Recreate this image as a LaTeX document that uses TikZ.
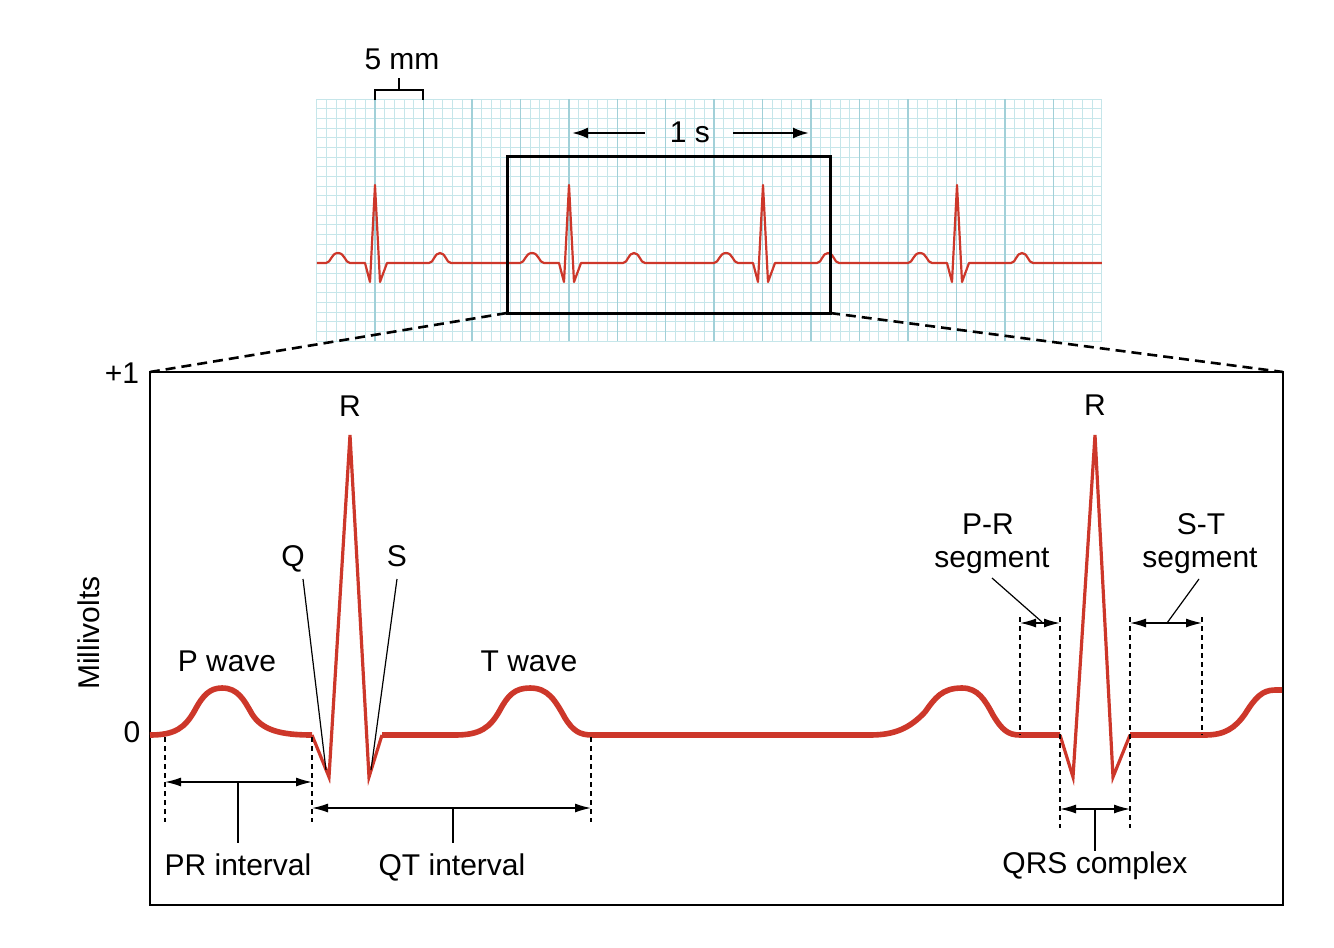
\documentclass[tikz,border=0pt]{standalone}
\usepackage{fontspec}
\setmainfont{Liberation Sans}
\usetikzlibrary{arrows.meta}
\definecolor{ecgred}{RGB}{205,55,42}
\definecolor{gridlight}{RGB}{198,230,234}
\definecolor{gridmajor}{RGB}{162,208,216}
\tikzset{
  lbl/.style={font=\fontsize{15}{17}\selectfont, inner sep=0pt, anchor=base},
  minorline/.style={draw=gridlight, line width=0.5pt},
  majorline/.style={draw=gridmajor, line width=0.75pt},
  smallecg/.style={draw=ecgred, line width=1.1pt, line join=round},
  bigecg/.style={draw=ecgred, line width=2.8pt, line join=round},
  qrsecg/.style={draw=ecgred, line width=1.6pt, line join=miter},
  frame/.style={draw=black, line width=1.4pt},
  zoomdash/.style={draw=black, line width=1.3pt, dash pattern=on 5pt off 3pt},
  guidedash/.style={draw=black, line width=0.6pt, dash pattern=on 2.5pt off 2pt},
  leader/.style={draw=black, line width=0.6pt},
  dimarrow/.style={draw=black, line width=0.7pt, {Latex[length=8pt,width=4.5pt]}-{Latex[length=8pt,width=4.5pt]}},
  timearrow/.style={draw=black, line width=1.2pt, -{Latex[length=8pt,width=5.5pt]}},
  beat/.pic={
    \draw[smallecg] (-100,0) -- (-49,0)
      .. controls (-44,0) and (-44,-10) .. (-37,-10)
      .. controls (-30,-10) and (-30,0) .. (-25,0)
      -- (-10,0) -- (-5,19) -- (0,-78) -- (5,19) -- (12,0) -- (54,0)
      .. controls (59,0) and (59,-10) .. (65,-10)
      .. controls (71,-10) and (71,0) .. (76,0) -- (94,0);
  }
}
\begin{document}
\begin{tikzpicture}[x=0.5pt,y=-0.5pt]
\useasboundingbox (0,0) rectangle (1334,948);

% ---------- ECG paper grid ----------
\foreach \i in {0,...,81}
  \draw[minorline] ({316.86+\i*9.69},99) -- ({316.86+\i*9.69},341.25);
\foreach \j in {0,...,25}
  \draw[minorline] (316.86,{99+\j*9.69}) -- (1101.75,{99+\j*9.69});
\foreach \i in {0,...,14}
  \draw[majorline] ({375+\i*48.45},99) -- ({375+\i*48.45},341.25);

% ---------- small trace ----------
\begin{scope}
  \clip (316.86,99) rectangle (1101.75,341.25);
  \foreach \r in {375,569,763,957,1151}
    \pic at (\r,263) {beat};
\end{scope}

% ---------- 5 mm bracket ----------
\node[lbl] (fivemm) at (402,69) {5 mm};
\coordinate (bk1) at (375,100);
\coordinate (bk2) at (375,90);
\coordinate (bk3) at (423,90);
\coordinate (bk4) at (423,100);
\coordinate (bkm) at (399,90);
\coordinate (bkt) at (399,78);
\draw[leader, line width=0.8pt] (bk1) -- (bk2) -- (bk3) -- (bk4);
\draw[leader, line width=0.8pt] (bkm) -- (bkt);

% ---------- 1 s ----------
\node[lbl] (onesec) at (690,142) {1 s};
\coordinate (osl1) at (645,133);
\coordinate (osl2) at (572,133);
\coordinate (osr1) at (733,133);
\coordinate (osr2) at (809,133);
\draw[timearrow] (osl1) -- (osl2);
\draw[timearrow] (osr1) -- (osr2);

% ---------- zoom box and lower frame ----------
\coordinate (zbTL) at (507,156);
\coordinate (zbBR) at (830,313);
\coordinate (zbBL) at (507,313);
\draw[frame, line width=1.5pt] (zbTL) rectangle (zbBR);
\coordinate (lbTL) at (150,372);
\coordinate (lbTR) at (1283,372);
\coordinate (lbBR) at (1283,905);
\draw[zoomdash] (zbBL) -- (lbTL);
\draw[zoomdash] (zbBR) -- (lbTR);
\draw[frame] (lbTL) rectangle (lbBR);

% ---------- axis labels ----------
\node[lbl] (plusone) at (122,383) {+1};
\node[lbl] (zero) at (132,742) {0};
\node[font=\fontsize{15}{17}\selectfont, inner sep=0pt, rotate=90] (mv) at (89,633) {Millivolts};

% ---------- big trace ----------
\draw[bigecg] (150,735)
  .. controls (175,735) and (185,728) .. (195,710)
  .. controls (203,695) and (210,688) .. (222,688)
  .. controls (238,688) and (244,700) .. (252,714)
  .. controls (262,730) and (280,735) .. (312,735);
\draw[qrsecg] (312,735) -- (329,777) -- (350,435) -- (369,777) -- (382,735);
\draw[bigecg] (382,735) -- (455,735)
  .. controls (480,735) and (490,728) .. (500,710)
  .. controls (508,695) and (515,688) .. (530,688)
  .. controls (548,688) and (555,700) .. (565,718)
  .. controls (573,731) and (580,735) .. (592,735)
  -- (870,735)
  .. controls (895,735) and (910,728) .. (925,712)
  .. controls (935,698) and (942,688) .. (962,688)
  .. controls (978,688) and (985,700) .. (993,715)
  .. controls (1002,730) and (1008,735) .. (1020,735)
  -- (1060,735);
\draw[qrsecg] (1060,735) -- (1073,777) -- (1095,435) -- (1113,777) -- (1130,735);
\draw[bigecg] (1130,735) -- (1205,735)
  .. controls (1225,735) and (1235,728) .. (1245,714)
  .. controls (1255,698) and (1262,690) .. (1275,690) -- (1282,690);

% ---------- wave labels ----------
\node[lbl] (Rone) at (350,416) {R};
\node[lbl] (Rtwo) at (1095,415) {R};
\node[lbl] (Qlab) at (293,566) {Q};
\node[lbl] (Slab) at (397,566) {S};
\node[lbl] (Pwave) at (227,671) {P wave};
\node[lbl] (Twave) at (529,671) {T wave};
\coordinate (qtip) at (326,770);
\coordinate (stip) at (371,770);
\draw[leader] (303,579) -- (qtip);
\draw[leader] (397,579) -- (stip);

% ---------- PR / QT intervals ----------
\coordinate (ga) at (165,737);  \coordinate (gab) at (165,822);
\coordinate (gb) at (312,737);  \coordinate (gbb) at (312,822);
\coordinate (gc) at (591,737);  \coordinate (gcb) at (591,822);
\draw[guidedash] (ga) -- (gab);
\draw[guidedash] (gb) -- (gbb);
\draw[guidedash] (gc) -- (gcb);
\coordinate (pr1) at (165,782); \coordinate (pr2) at (312,782);
\draw[dimarrow] (pr1) -- (pr2);
\coordinate (prt1) at (238,782); \coordinate (prt2) at (238,843);
\draw[leader, line width=0.8pt] (prt1) -- (prt2);
\node[lbl] (PRint) at (238,875) {PR interval};
\coordinate (qt1) at (312,808); \coordinate (qt2) at (591,808);
\draw[dimarrow] (qt1) -- (qt2);
\coordinate (qtt1) at (453,808); \coordinate (qtt2) at (453,843);
\draw[leader, line width=0.8pt] (qtt1) -- (qtt2);
\node[lbl] (QTint) at (452,875) {QT interval};

% ---------- segments / QRS ----------
\coordinate (sa) at (1020,617); \coordinate (sab) at (1020,735);
\coordinate (sb) at (1060,617); \coordinate (sbb) at (1060,828);
\coordinate (sc) at (1130,617); \coordinate (scb) at (1130,828);
\coordinate (sd) at (1202,617); \coordinate (sdb) at (1202,735);
\draw[guidedash] (sa) -- (sab);
\draw[guidedash] (sb) -- (sbb);
\draw[guidedash] (sc) -- (scb);
\draw[guidedash] (sd) -- (sdb);
\coordinate (prs1) at (1020,623); \coordinate (prs2) at (1060,623);
\draw[dimarrow] (prs1) -- (prs2);
\coordinate (sts1) at (1130,623); \coordinate (sts2) at (1202,623);
\draw[dimarrow] (sts1) -- (sts2);
\node[lbl] (PRseg1) at (988,534) {P-R};
\node[lbl] (PRseg2) at (992,567) {segment};
\node[lbl] (STseg1) at (1201,534) {S-T};
\node[lbl] (STseg2) at (1200,567) {segment};
\coordinate (prl1) at (992,578); \coordinate (prl2) at (1042,622);
\draw[leader] (prl1) -- (prl2);
\coordinate (stl1) at (1199,579); \coordinate (stl2) at (1167,623);
\draw[leader] (stl1) -- (stl2);
\coordinate (qrs1) at (1060,809); \coordinate (qrs2) at (1130,809);
\draw[dimarrow] (qrs1) -- (qrs2);
\coordinate (qrst1) at (1095,809); \coordinate (qrst2) at (1095,851);
\draw[leader, line width=0.8pt] (qrst1) -- (qrst2);
\node[lbl] (QRS) at (1095,873) {QRS complex};
\end{tikzpicture}
\end{document}
